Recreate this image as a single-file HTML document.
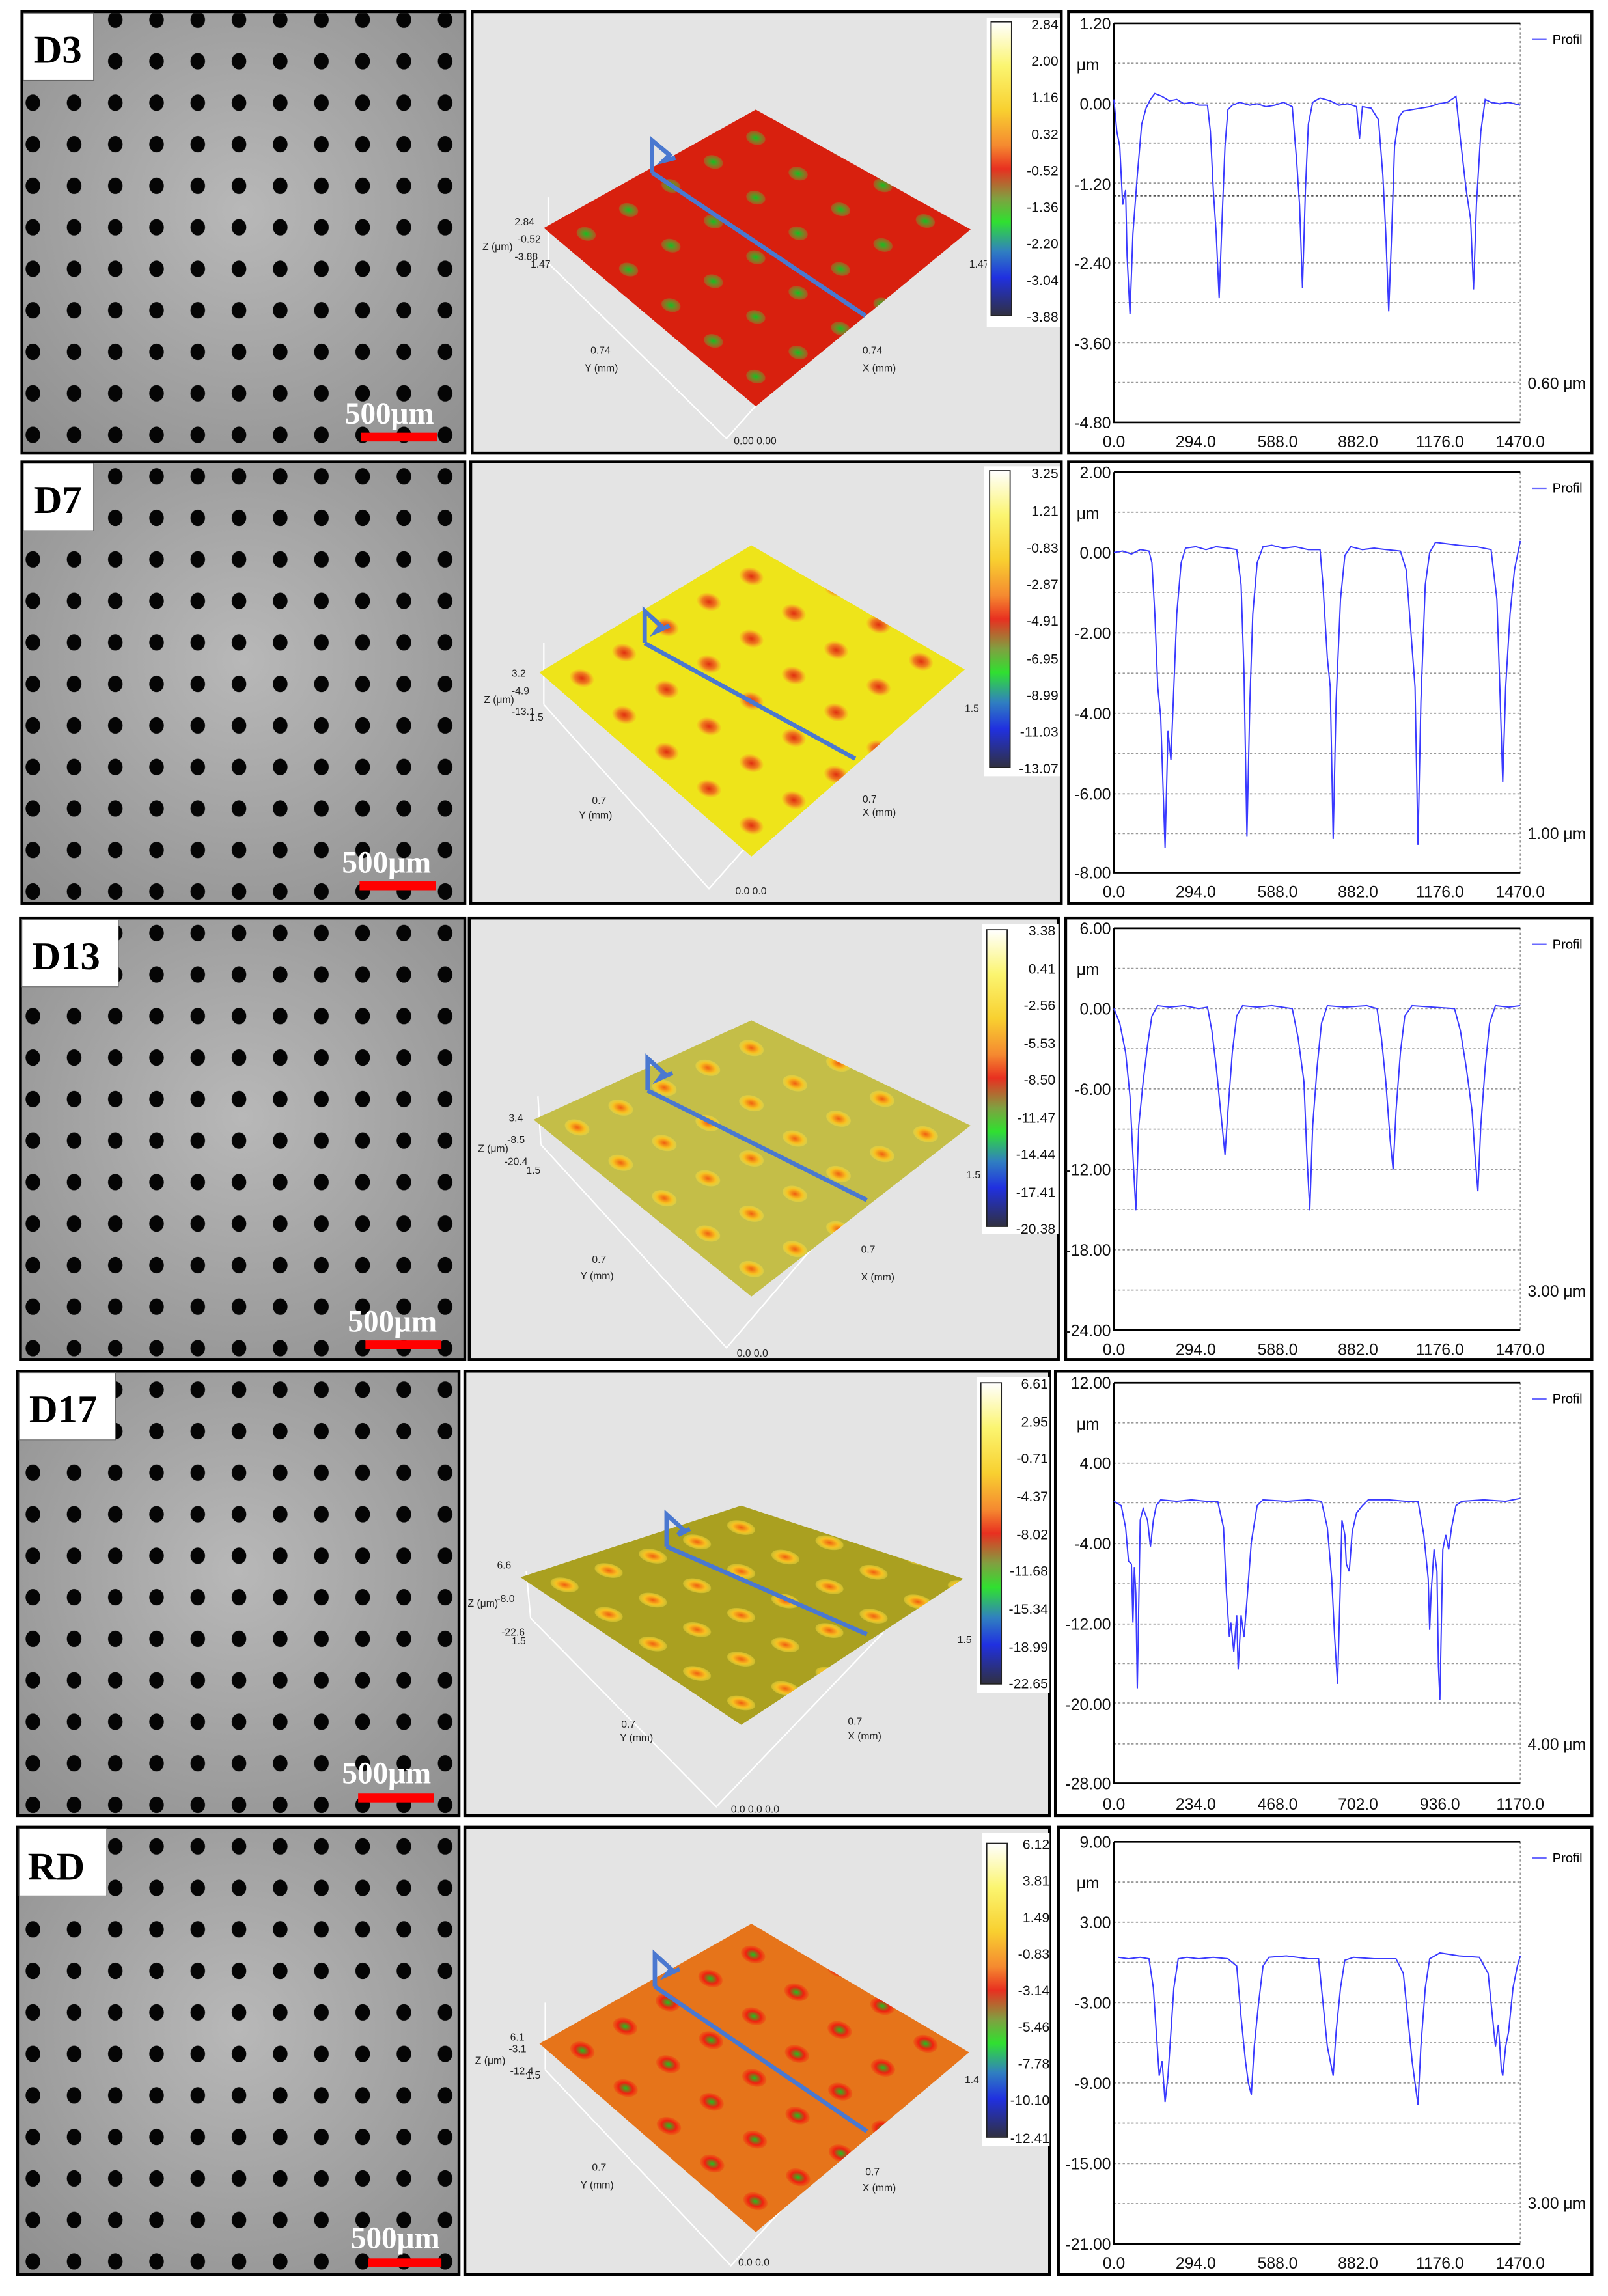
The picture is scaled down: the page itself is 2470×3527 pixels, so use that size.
<!DOCTYPE html>
<html><head><meta charset="utf-8"><style>
html,body{margin:0;padding:0;background:#fff}
svg{display:block}
text{font-family:"Liberation Sans",sans-serif}
.s text{font-family:"Liberation Serif",serif;font-weight:bold}
.ax{font-size:11px;fill:#111}
.cb{font-size:9.5px;fill:#111}
.sm{font-size:7px;fill:#222}
.gl{stroke:#999;stroke-width:0.8;stroke-dasharray:1.5 1.5}
.pf{fill:none;stroke:#3a3aff;stroke-width:0.9}
</style></head><body>
<svg width="2470" height="3527" viewBox="0 0 1100 1570.7" preserveAspectRatio="none" xmlns="http://www.w3.org/2000/svg">
<defs>
<pattern id="dots" patternUnits="userSpaceOnUse" x="8.5" y="-0.5" width="28.2" height="28.4">
<ellipse cx="14" cy="14" rx="5" ry="5.6" fill="#050505"/>
</pattern>
<radialGradient id="ph" cx="50%" cy="45%" r="75%">
<stop offset="0" stop-color="#b8b8b8"/><stop offset="1" stop-color="#8e8e8e"/>
</radialGradient>
<linearGradient id="cbar" x1="0" y1="0" x2="0" y2="1">
<stop offset="0" stop-color="#ffffff"/><stop offset="0.15" stop-color="#fbf570"/><stop offset="0.3" stop-color="#f8d030"/>
<stop offset="0.42" stop-color="#f58a30"/><stop offset="0.5" stop-color="#e83020"/><stop offset="0.6" stop-color="#80a040"/>
<stop offset="0.68" stop-color="#30e030"/><stop offset="0.78" stop-color="#3080c0"/><stop offset="0.87" stop-color="#2030e0"/>
<stop offset="1" stop-color="#303040"/>
</linearGradient>
<radialGradient id="cg"><stop offset="0" stop-color="#10c020"/><stop offset="1" stop-color="#60c040" stop-opacity="0.3"/></radialGradient>
<radialGradient id="co"><stop offset="0" stop-color="#e03010"/><stop offset="0.6" stop-color="#f08020"/><stop offset="1" stop-color="#f8c020" stop-opacity="0.4"/></radialGradient>
<radialGradient id="cy"><stop offset="0" stop-color="#f06010"/><stop offset="0.6" stop-color="#f8c020"/><stop offset="1" stop-color="#f8e040" stop-opacity="0.4"/></radialGradient>
<radialGradient id="cr"><stop offset="0" stop-color="#20c020"/><stop offset="0.6" stop-color="#f02010"/><stop offset="1" stop-color="#f04010" stop-opacity="0.4"/></radialGradient>
<pattern id="p1" patternUnits="userSpaceOnUse" width="0.2" height="0.2" patternTransform="matrix(145,-82,145,122,372,156)"><circle cx="0.1" cy="0.1" r="0.032" fill="url(#cg)"/></pattern>
<pattern id="p2" patternUnits="userSpaceOnUse" width="0.2" height="0.2" patternTransform="matrix(145,-87,145,126,369,460)"><circle cx="0.1" cy="0.1" r="0.04" fill="url(#co)"/></pattern>
<pattern id="p3" patternUnits="userSpaceOnUse" width="0.2" height="0.2" patternTransform="matrix(149,-68,149,121,365,766)"><circle cx="0.1" cy="0.1" r="0.04" fill="url(#cy)"/></pattern>
<pattern id="p4" patternUnits="userSpaceOnUse" width="0.2" height="0.2" patternTransform="matrix(151,-49,151,101,356,1079)"><circle cx="0.1" cy="0.1" r="0.045" fill="url(#cy)"/></pattern>
<pattern id="p5" patternUnits="userSpaceOnUse" width="0.2" height="0.2" patternTransform="matrix(146,-82,148,129,369,1398)"><circle cx="0.1" cy="0.1" r="0.04" fill="url(#cr)"/></pattern>
</defs>
<rect width="1100" height="1571" fill="#fff"/>

<g stroke="#000" stroke-width="2">
<rect x="15" y="8" width="303" height="302" fill="url(#ph)"/>
<rect x="15" y="316" width="303" height="302" fill="url(#ph)"/>
<rect x="14" y="628" width="304" height="302" fill="url(#ph)"/>
<rect x="12" y="938" width="302" height="304" fill="url(#ph)"/>
<rect x="12" y="1250" width="302" height="306" fill="url(#ph)"/>
</g>
<rect x="16" y="9" width="301" height="300" fill="url(#dots)"/>
<rect x="16" y="317" width="301" height="300" fill="url(#dots)"/>
<rect x="15" y="629" width="302" height="300" fill="url(#dots)"/>
<rect x="13" y="939" width="300" height="302" fill="url(#dots)"/>
<rect x="13" y="1251" width="300" height="304" fill="url(#dots)"/>
<g fill="#fff" stroke="#666" stroke-width="0.5">
<rect x="16" y="9" width="48" height="46"/>
<rect x="16" y="317" width="48" height="46"/>
<rect x="15" y="629" width="66" height="46"/>
<rect x="13" y="939" width="66" height="46"/>
<rect x="13" y="1251" width="60" height="46"/>
</g>
<g class="s" font-size="27" fill="#000">
<text x="23" y="43">D3</text>
<text x="23" y="351">D7</text>
<text x="22" y="663">D13</text>
<text x="20" y="973">D17</text>
<text x="19" y="1286">RD</text>
</g>
<g class="s" font-size="21" fill="#fff">
<text x="236" y="290">500μm</text>
<text x="234" y="597">500μm</text>
<text x="238" y="911">500μm</text>
<text x="234" y="1220">500μm</text>
<text x="240" y="1538">500μm</text>
</g>
<g fill="#f00">
<rect x="247" y="296" width="52" height="6"/>
<rect x="246" y="603" width="52" height="6"/>
<rect x="250" y="917" width="52" height="6"/>
<rect x="245" y="1227" width="52" height="6"/>
<rect x="252" y="1545" width="50" height="6"/>
</g>

<g stroke="#000" stroke-width="2" fill="#e4e4e4">
<rect x="323" y="8" width="403" height="302"/>
<rect x="322" y="316" width="404" height="302"/>
<rect x="321" y="628" width="403" height="302"/>
<rect x="318" y="938" width="400" height="304"/>
<rect x="318" y="1250" width="400" height="306"/>
</g>
<g stroke="#fff" stroke-width="1" fill="none">
<polyline points="375,180 497,300 597,188"/><line x1="375" y1="135" x2="375" y2="180"/>
<polyline points="372,482 485,608 585,495"/><line x1="372" y1="440" x2="372" y2="482"/>
<polyline points="370,783 497,922 602,800"/><line x1="368" y1="750" x2="370" y2="783"/>
<polyline points="363,1107 490,1236 604,1117"/><line x1="360" y1="1075" x2="363" y2="1107"/>
<polyline points="373,1416 500,1550 604,1435"/><line x1="373" y1="1370" x2="373" y2="1416"/>
</g>
<polygon points="517,75 664,157 517,278 372,156" fill="#d8200e"/>
<polygon points="517,75 664,157 517,278 372,156" fill="url(#p1)"/>
<polygon points="514,373 660,458 514,586 369,460" fill="#eee41a"/>
<polygon points="514,373 660,458 514,586 369,460" fill="url(#p2)"/>
<polygon points="514,698 664,770 514,887 365,766" fill="#c4be48"/>
<polygon points="514,698 664,770 514,887 365,766" fill="url(#p3)"/>
<polygon points="507,1030 659,1080 507,1180 356,1079" fill="#aaa020"/>
<polygon points="507,1030 659,1080 507,1180 356,1079" fill="url(#p4)"/>
<polygon points="514,1316 663,1404 517,1527 369,1398" fill="#e6741a"/>
<polygon points="514,1316 663,1404 517,1527 369,1398" fill="url(#p5)"/>
<g stroke="#4a78d0" stroke-width="3" fill="none" stroke-linejoin="miter">
<polyline points="446,118 592,216"/><polyline points="446,118 446,96 458,106 454,110 462,108"/>
<polyline points="441,440 585,519"/><polyline points="441,440 441,418 452,428 449,432 458,428"/>
<polyline points="443,746 593,821"/><polyline points="443,746 443,724 454,734 451,738 460,734"/>
<polyline points="456,1058 593,1118"/><polyline points="456,1058 456,1036 467,1046 464,1050 472,1046"/>
<polyline points="448,1359 593,1458"/><polyline points="448,1359 448,1337 459,1347 456,1351 465,1347"/>
</g>
<g class="sm">
<text x="352" y="154">2.84</text><text x="354" y="166">-0.52</text><text x="330" y="171">Z (μm)</text><text x="352" y="178">-3.88</text><text x="363" y="183">1.47</text>
<text x="404" y="242">0.74</text><text x="400" y="254">Y (mm)</text><text x="590" y="242">0.74</text><text x="590" y="254">X (mm)</text><text x="663" y="183">1.47</text><text x="502" y="304">0.00 0.00</text>
<text x="350" y="463">3.2</text><text x="350" y="475">-4.9</text><text x="331" y="481">Z (μm)</text><text x="350" y="489">-13.1</text><text x="362" y="493">1.5</text>
<text x="405" y="550">0.7</text><text x="396" y="560">Y (mm)</text><text x="590" y="549">0.7</text><text x="590" y="558">X (mm)</text><text x="660" y="487">1.5</text><text x="503" y="612">0.0  0.0</text>
<text x="348" y="767">3.4</text><text x="347" y="782">-8.5</text><text x="327" y="788">Z (μm)</text><text x="345" y="797">-20.4</text><text x="360" y="803">1.5</text>
<text x="405" y="864">0.7</text><text x="397" y="875">Y (mm)</text><text x="589" y="857">0.7</text><text x="589" y="876">X (mm)</text><text x="661" y="806">1.5</text><text x="504" y="928">0.0 0.0</text>
<text x="340" y="1073">6.6</text><text x="340" y="1096">-8.0</text><text x="320" y="1099">Z (μm)</text><text x="343" y="1119">-22.6</text><text x="350" y="1125">1.5</text>
<text x="425" y="1182">0.7</text><text x="424" y="1191">Y (mm)</text><text x="580" y="1180">0.7</text><text x="580" y="1190">X (mm)</text><text x="655" y="1124">1.5</text><text x="500" y="1240">0.0 0.0 0.0</text>
<text x="349" y="1396">6.1</text><text x="348" y="1404">-3.1</text><text x="325" y="1412">Z (μm)</text><text x="349" y="1419">-12.4</text><text x="360" y="1422">1.5</text>
<text x="405" y="1485">0.7</text><text x="397" y="1497">Y (mm)</text><text x="592" y="1488">0.7</text><text x="590" y="1499">X (mm)</text><text x="660" y="1425">1.4</text><text x="505" y="1550">0.0 0.0</text>
</g>
<g fill="#fff"><rect x="675" y="12" width="50" height="212"/><rect x="673" y="319" width="52" height="212"/><rect x="672" y="632" width="52" height="212"/><rect x="668" y="942" width="50" height="216"/><rect x="672" y="1254" width="46" height="214"/></g>
<g stroke="#222" stroke-width="0.8" fill="url(#cbar)">
<rect x="678" y="15" width="14" height="201"/>
<rect x="677" y="322" width="14" height="203"/>
<rect x="675" y="636" width="14" height="203"/>
<rect x="671" y="946" width="14" height="206"/>
<rect x="675" y="1261" width="14" height="201"/>
</g>
<g class="cb" text-anchor="end">
<text x="724" y="20">2.84</text><text x="724" y="45">2.00</text><text x="724" y="70">1.16</text><text x="724" y="95">0.32</text><text x="724" y="120">-0.52</text><text x="724" y="145">-1.36</text><text x="724" y="170">-2.20</text><text x="724" y="195">-3.04</text><text x="724" y="220">-3.88</text>
<text x="724" y="327">3.25</text><text x="724" y="353">1.21</text><text x="724" y="378">-0.83</text><text x="724" y="403">-2.87</text><text x="724" y="428">-4.91</text><text x="724" y="454">-6.95</text><text x="724" y="479">-8.99</text><text x="724" y="504">-11.03</text><text x="724" y="529">-13.07</text>
<text x="722" y="640">3.38</text><text x="722" y="666">0.41</text><text x="722" y="691">-2.56</text><text x="722" y="717">-5.53</text><text x="722" y="742">-8.50</text><text x="722" y="768">-11.47</text><text x="722" y="793">-14.44</text><text x="722" y="819">-17.41</text><text x="722" y="844">-20.38</text>
<text x="717" y="950">6.61</text><text x="717" y="976">2.95</text><text x="717" y="1001">-0.71</text><text x="717" y="1027">-4.37</text><text x="717" y="1053">-8.02</text><text x="717" y="1078">-11.68</text><text x="717" y="1104">-15.34</text><text x="717" y="1130">-18.99</text><text x="717" y="1155">-22.65</text>
<text x="718" y="1265">6.12</text><text x="718" y="1290">3.81</text><text x="718" y="1315">1.49</text><text x="718" y="1340">-0.83</text><text x="718" y="1365">-3.14</text><text x="718" y="1390">-5.46</text><text x="718" y="1415">-7.78</text><text x="718" y="1440">-10.10</text><text x="718" y="1466">-12.41</text>
</g>

<g stroke="#000" stroke-width="2" fill="#fff">
<rect x="731" y="8" width="358" height="302"/>
<rect x="731" y="316" width="358" height="302"/>
<rect x="729" y="628" width="360" height="302"/>
<rect x="722" y="938" width="367" height="304"/>
<rect x="724" y="1250" width="365" height="306"/>
</g>
<g>
<g class="gl"><line x1="762" y1="43.3" x2="1040" y2="43.3"/><line x1="762" y1="70.6" x2="1040" y2="70.6"/><line x1="762" y1="97.9" x2="1040" y2="97.9"/><line x1="762" y1="125.2" x2="1040" y2="125.2"/><line x1="762" y1="134" x2="1040" y2="134" stroke="#555"/><line x1="762" y1="152.5" x2="1040" y2="152.5"/><line x1="762" y1="179.8" x2="1040" y2="179.8"/><line x1="762" y1="207.1" x2="1040" y2="207.1"/><line x1="762" y1="234.4" x2="1040" y2="234.4"/><line x1="762" y1="261.7" x2="1040" y2="261.7"/><line x1="1040" y1="16" x2="1040" y2="289"/></g>
<polyline points="762,16 762,289 1040,289" fill="none" stroke="#000" stroke-width="1.2"/><line x1="762" y1="16" x2="1040" y2="16" stroke="#000" stroke-width="1.2"/>
<g class="ax" text-anchor="end"><text x="760" y="20">1.20</text><text x="752" y="48">μm</text><text x="760" y="75">0.00</text><text x="760" y="130">-1.20</text><text x="760" y="184">-2.40</text><text x="760" y="239">-3.60</text><text x="760" y="293">-4.80</text></g>
<g class="ax" text-anchor="middle"><text x="762" y="306">0.0</text><text x="818" y="306">294.0</text><text x="874" y="306">588.0</text><text x="929" y="306">882.0</text><text x="985" y="306">1176.0</text><text x="1040" y="306">1470.0</text></g>
<text x="1045" y="266" class="ax" font-size="10">0.60 μm</text>
<line x1="1048" y1="27" x2="1058" y2="27" stroke="#6a6aff"/><text x="1062" y="30" font-size="9">Profil</text>
<polyline class="pf" points="762,68 764,90 766,100 768,140 770,130 771,175 773,215 775,160 778,120 781,85 784,74 787,68 790,64 795,66 800,69 805,68 810,71 815,70 820,72 826,72 828,90 830,130 832,160 834,204 836,150 838,100 840,75 843,72 848,70 855,72 860,71 866,73 872,72 878,70 884,73 887,110 889,140 891,197 893,130 895,85 898,70 903,67 910,69 916,72 922,71 928,73 930,95 932,73 938,74 943,82 946,120 948,160 950,213 952,160 954,100 957,80 960,76 966,75 972,74 978,73 984,71 990,70 996,66 999,95 1003,130 1006,150 1008,198 1010,140 1013,90 1016,68 1020,70 1026,71 1032,70 1040,72"/>
</g>
<g>
<g class="gl"><line x1="762" y1="350.4" x2="1040" y2="350.4"/><line x1="762" y1="378" x2="1040" y2="378"/><line x1="762" y1="405.2" x2="1040" y2="405.2"/><line x1="762" y1="433" x2="1040" y2="433"/><line x1="762" y1="460.6" x2="1040" y2="460.6"/><line x1="762" y1="488" x2="1040" y2="488"/><line x1="762" y1="515.4" x2="1040" y2="515.4"/><line x1="762" y1="543" x2="1040" y2="543"/><line x1="762" y1="570.2" x2="1040" y2="570.2"/><line x1="1040" y1="323" x2="1040" y2="597"/></g>
<polyline points="762,323 762,597 1040,597" fill="none" stroke="#000" stroke-width="1.2"/><line x1="762" y1="323" x2="1040" y2="323" stroke="#000" stroke-width="1.2"/>
<g class="ax" text-anchor="end"><text x="760" y="327">2.00</text><text x="752" y="355">μm</text><text x="760" y="382">0.00</text><text x="760" y="437">-2.00</text><text x="760" y="492">-4.00</text><text x="760" y="547">-6.00</text><text x="760" y="601">-8.00</text></g>
<g class="ax" text-anchor="middle"><text x="762" y="614">0.0</text><text x="818" y="614">294.0</text><text x="874" y="614">588.0</text><text x="929" y="614">882.0</text><text x="985" y="614">1176.0</text><text x="1040" y="614">1470.0</text></g>
<text x="1045" y="574" class="ax" font-size="10">1.00 μm</text>
<line x1="1048" y1="334" x2="1058" y2="334" stroke="#6a6aff"/><text x="1062" y="337" font-size="9">Profil</text>
<polyline class="pf" points="762,378 768,377 774,379 780,376 786,377 788,385 790,420 792,470 794,490 795,520 797,580 799,500 801,520 803,470 805,420 808,385 811,375 818,374 825,376 832,374 840,375 846,376 849,400 851,460 853,572 855,480 857,420 860,385 864,374 870,373 878,375 886,374 895,376 903,376 905,400 908,450 910,470 912,574 914,480 917,410 920,380 924,374 932,376 940,375 948,376 958,377 962,390 965,430 968,470 970,578 972,480 975,400 978,378 982,371 990,372 998,373 1010,374 1020,376 1024,410 1026,470 1028,535 1030,470 1033,420 1036,390 1040,370"/>
</g>
<g>
<g class="gl"><line x1="762" y1="662.5" x2="1040" y2="662.5"/><line x1="762" y1="690" x2="1040" y2="690"/><line x1="762" y1="717.5" x2="1040" y2="717.5"/><line x1="762" y1="745" x2="1040" y2="745"/><line x1="762" y1="772.5" x2="1040" y2="772.5"/><line x1="762" y1="800" x2="1040" y2="800"/><line x1="762" y1="827.5" x2="1040" y2="827.5"/><line x1="762" y1="855" x2="1040" y2="855"/><line x1="762" y1="882.5" x2="1040" y2="882.5"/><line x1="1040" y1="635" x2="1040" y2="910"/></g>
<polyline points="762,635 762,910 1040,910" fill="none" stroke="#000" stroke-width="1.2"/><line x1="762" y1="635" x2="1040" y2="635" stroke="#000" stroke-width="1.2"/>
<g class="ax" text-anchor="end"><text x="760" y="639">6.00</text><text x="752" y="667">μm</text><text x="760" y="694">0.00</text><text x="760" y="749">-6.00</text><text x="760" y="804">-12.00</text><text x="760" y="859">-18.00</text><text x="760" y="914">-24.00</text></g>
<g class="ax" text-anchor="middle"><text x="762" y="927">0.0</text><text x="818" y="927">294.0</text><text x="874" y="927">588.0</text><text x="929" y="927">882.0</text><text x="985" y="927">1176.0</text><text x="1040" y="927">1470.0</text></g>
<text x="1045" y="887" class="ax" font-size="10">3.00 μm</text>
<line x1="1048" y1="646" x2="1058" y2="646" stroke="#6a6aff"/><text x="1062" y="649" font-size="9">Profil</text>
<polyline class="pf" points="762,690 766,700 770,720 773,750 775,790 777,828 779,770 782,740 785,715 788,695 792,688 800,689 810,688 820,690 826,689 829,705 832,730 835,760 838,790 840,760 843,720 846,695 850,688 860,689 870,688 884,690 888,710 892,740 894,790 896,828 898,770 901,730 904,700 908,688 920,689 935,688 942,690 945,710 948,740 951,780 953,800 955,760 958,720 961,695 966,688 980,689 995,690 999,705 1003,730 1007,760 1009,790 1011,815 1013,770 1016,730 1019,700 1023,688 1032,689 1040,688"/>
</g>
<g>
<g class="gl"><line x1="762" y1="973.4" x2="1040" y2="973.4"/><line x1="762" y1="1001" x2="1040" y2="1001"/><line x1="762" y1="1028" x2="1040" y2="1028"/><line x1="762" y1="1056" x2="1040" y2="1056"/><line x1="762" y1="1083" x2="1040" y2="1083"/><line x1="762" y1="1111" x2="1040" y2="1111"/><line x1="762" y1="1138" x2="1040" y2="1138"/><line x1="762" y1="1165" x2="1040" y2="1165"/><line x1="762" y1="1193" x2="1040" y2="1193"/><line x1="1040" y1="946" x2="1040" y2="1220"/></g>
<polyline points="762,946 762,1220 1040,1220" fill="none" stroke="#000" stroke-width="1.2"/><line x1="762" y1="946" x2="1040" y2="946" stroke="#000" stroke-width="1.2"/>
<g class="ax" text-anchor="end"><text x="760" y="950">12.00</text><text x="752" y="978">μm</text><text x="760" y="1005">4.00</text><text x="760" y="1060">-4.00</text><text x="760" y="1115">-12.00</text><text x="760" y="1170">-20.00</text><text x="760" y="1224">-28.00</text></g>
<g class="ax" text-anchor="middle"><text x="762" y="1238">0.0</text><text x="818" y="1238">234.0</text><text x="874" y="1238">468.0</text><text x="929" y="1238">702.0</text><text x="985" y="1238">936.0</text><text x="1040" y="1238">1170.0</text></g>
<text x="1045" y="1197" class="ax" font-size="10">4.00 μm</text>
<line x1="1048" y1="957" x2="1058" y2="957" stroke="#6a6aff"/><text x="1062" y="960" font-size="9">Profil</text>
<polyline class="pf" points="762,1027 767,1030 770,1045 772,1068 774,1070 775,1110 776,1072 777,1090 778,1155 780,1040 782,1032 785,1040 787,1058 789,1040 791,1030 794,1026 805,1027 815,1026 825,1027 833,1027 837,1045 839,1090 841,1120 842,1110 844,1130 846,1105 847,1142 849,1105 851,1120 853,1095 856,1055 860,1030 864,1026 880,1027 895,1026 904,1027 908,1045 911,1080 913,1120 915,1152 917,1080 918,1040 920,1050 921,1070 923,1075 925,1048 928,1035 932,1030 936,1026 950,1026 962,1027 970,1027 974,1050 977,1080 978,1115 979,1090 981,1060 983,1075 984,1140 985,1163 987,1060 989,1050 991,1060 993,1045 996,1030 1000,1027 1015,1026 1030,1027 1040,1025"/>
</g>
<g>
<g class="gl"><line x1="762" y1="1287.5" x2="1040" y2="1287.5"/><line x1="762" y1="1315" x2="1040" y2="1315"/><line x1="762" y1="1342.5" x2="1040" y2="1342.5"/><line x1="762" y1="1370" x2="1040" y2="1370"/><line x1="762" y1="1397.5" x2="1040" y2="1397.5"/><line x1="762" y1="1425" x2="1040" y2="1425"/><line x1="762" y1="1452.5" x2="1040" y2="1452.5"/><line x1="762" y1="1480" x2="1040" y2="1480"/><line x1="762" y1="1507.5" x2="1040" y2="1507.5"/><line x1="1040" y1="1260" x2="1040" y2="1535"/></g>
<polyline points="762,1260 762,1535 1040,1535" fill="none" stroke="#000" stroke-width="1.2"/><line x1="762" y1="1260" x2="1040" y2="1260" stroke="#000" stroke-width="1.2"/>
<g class="ax" text-anchor="end"><text x="760" y="1264">9.00</text><text x="752" y="1292">μm</text><text x="760" y="1319">3.00</text><text x="760" y="1374">-3.00</text><text x="760" y="1429">-9.00</text><text x="760" y="1484">-15.00</text><text x="760" y="1539">-21.00</text></g>
<g class="ax" text-anchor="middle"><text x="762" y="1552">0.0</text><text x="818" y="1552">294.0</text><text x="874" y="1552">588.0</text><text x="929" y="1552">882.0</text><text x="985" y="1552">1176.0</text><text x="1040" y="1552">1470.0</text></g>
<text x="1045" y="1511" class="ax" font-size="10">3.00 μm</text>
<line x1="1048" y1="1271" x2="1058" y2="1271" stroke="#6a6aff"/><text x="1062" y="1274" font-size="9">Profil</text>
<polyline class="pf" points="765,1339 772,1340 780,1339 786,1340 789,1360 791,1390 793,1420 795,1410 797,1438 799,1420 801,1390 803,1360 806,1340 812,1339 820,1340 830,1339 840,1340 846,1345 849,1380 852,1410 854,1425 856,1433 858,1400 861,1370 864,1345 868,1339 880,1338 895,1340 902,1340 905,1370 908,1400 910,1410 912,1420 914,1390 917,1360 920,1341 926,1339 940,1340 955,1340 960,1350 963,1380 966,1410 968,1425 970,1440 972,1400 975,1360 978,1340 985,1336 998,1338 1012,1339 1018,1350 1021,1380 1023,1400 1025,1385 1027,1415 1028,1420 1030,1400 1032,1390 1035,1360 1038,1345 1040,1338"/>
</g>
</svg>
</body></html>
